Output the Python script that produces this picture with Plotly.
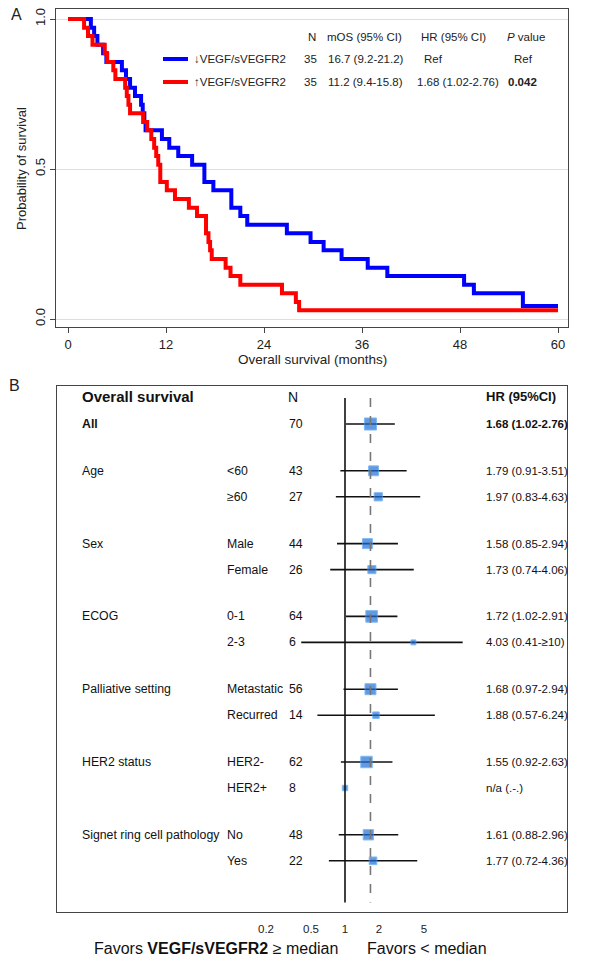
import math
import plotly.graph_objects as go

W, H = 600, 967
FONT = "Liberation Sans, Arial, sans-serif"


def px(x):
    return x / W


def py(y):
    return 1 - y / H


# ---------------- Panel A: Kaplan-Meier data -------------
low_t = [0, 2.8, 3.2, 3.6, 4.3, 4.7, 6.6, 7.1, 7.6, 8.2, 8.95, 9.15, 9.35, 9.5,
         11.5, 12.4, 13.5, 15.2, 16.7, 17.8, 20.0, 21.1, 21.95, 26.8, 29.7,
         31.3, 33.5, 36.7, 39.1, 48.5, 49.7, 55.7, 60]
low_s = [1.000, 0.971, 0.943, 0.914, 0.886, 0.857, 0.829, 0.800, 0.771, 0.743,
         0.714, 0.686, 0.657, 0.629, 0.600, 0.571, 0.543, 0.514, 0.457, 0.429,
         0.371, 0.343, 0.314, 0.286, 0.257, 0.229, 0.200, 0.171, 0.143, 0.114,
         0.086, 0.043, 0.043]

high_t = [0, 1.97, 2.45, 3.0, 4.5, 4.8, 5.55, 5.8, 7.0, 7.2, 7.4, 7.6, 9.2,
          9.7, 10.2, 10.55, 10.8, 11.05, 11.3, 12.1, 13.1, 14.8, 15.8, 16.9,
          17.2, 17.4, 17.6, 19.3, 19.9, 21.1, 26.2, 27.9, 28.3, 60]
high_s = [1.000, 0.971, 0.943, 0.914, 0.886, 0.857, 0.829, 0.800, 0.771, 0.743,
          0.714, 0.686, 0.657, 0.629, 0.600, 0.571, 0.543, 0.514, 0.457, 0.429,
          0.400, 0.371, 0.343, 0.286, 0.257, 0.229, 0.200, 0.171, 0.143, 0.114,
          0.086, 0.057, 0.029, 0.029]

km_xticks = [0, 12, 24, 36, 48, 60]
km_yticks = [0.0, 0.5, 1.0]
km_yticktext = ["0.0", "0.5", "1.0"]

legend_labels = ["↓VEGF/sVEGFR2", "↑VEGF/sVEGFR2"]
legend_n = ["35", "35"]
legend_mos = ["16.7 (9.2-21.2)", "11.2 (9.4-15.8)"]
legend_hr = ["Ref", "1.68 (1.02-2.76)"]
legend_p = ["Ref", "<b>0.042</b>"]

# ---------------- Panel B: forest plot data --------------------------------
groups = ["All", "Age", "Sex", "ECOG", "Palliative setting", "HER2 status",
          "Signet ring cell pathology"]
group_sizes = [1, 2, 2, 2, 2, 2, 2]
sublabels = ["", "<60", "≥60", "Male", "Female", "0-1", "2-3", "Metastatic",
             "Recurred", "HER2-", "HER2+", "No", "Yes"]
n_vals = [70, 43, 27, 44, 26, 64, 6, 56, 14, 62, 8, 48, 22]
hr_vals = [1.68, 1.79, 1.97, 1.58, 1.73, 1.72, 4.03, 1.68, 1.88, 1.55, 1.0,
           1.61, 1.77]
ci_lo = [1.02, 0.91, 0.83, 0.85, 0.74, 1.02, 0.41, 0.97, 0.57, 0.92, None,
         0.88, 0.72]
ci_hi = [2.76, 3.51, 4.63, 2.94, 4.06, 2.91, 11.0, 2.94, 6.24, 2.63, None,
         2.96, 4.36]
hr_text = ["<b>1.68 (1.02-2.76)</b>", "1.79 (0.91-3.51)", "1.97 (0.83-4.63)",
           "1.58 (0.85-2.94)", "1.73 (0.74-4.06)", "1.72 (1.02-2.91)",
           "4.03 (0.41-≥10)", "1.68 (0.97-2.94)", "1.88 (0.57-6.24)",
           "1.55 (0.92-2.63)", "n/a (.-.)", "1.61 (0.88-2.96)",
           "1.77 (0.72-4.36)"]
overall_hr = 1.68
forest_ticks = [0.2, 0.5, 1, 2, 5]

# row positions (layout): groups separated by a gap
GAP = 0.8
row_pos = []
group_first_pos = []
p = 0.0
for gi, size in enumerate(group_sizes):
    if gi > 0:
        p += GAP
    group_first_pos.append(p)
    for k in range(size):
        row_pos.append(p)
        p += 1

fig = go.Figure()

# ---------- KM traces ----------
fig.add_trace(go.Scatter(x=low_t, y=low_s, mode="lines", line_shape="hv",
                         line=dict(color="#0000ff", width=4), xaxis="x",
                         yaxis="y", showlegend=False, hoverinfo="skip"))
fig.add_trace(go.Scatter(x=high_t, y=high_s, mode="lines", line_shape="hv",
                         line=dict(color="#ff0000", width=4), xaxis="x",
                         yaxis="y", showlegend=False, hoverinfo="skip"))

# ---------- forest traces ----------
for i in range(len(n_vals)):
    if ci_lo[i] is not None:
        fig.add_trace(go.Scatter(x=[ci_lo[i], ci_hi[i]],
                                 y=[row_pos[i], row_pos[i]],
                                 mode="lines", line=dict(color="#111", width=1.6),
                                 xaxis="x2", yaxis="y2", showlegend=False,
                                 hoverinfo="skip"))
marker_sizes = [2 + 1.2 * math.sqrt(n) for n in n_vals]
fig.add_trace(go.Scatter(x=hr_vals, y=row_pos, mode="markers",
                         marker=dict(symbol="square", size=marker_sizes,
                                     color="#1f6fd6",
                                     line=dict(color="#4a9cf0", width=1)),
                         xaxis="x2", yaxis="y2", showlegend=False,
                         hoverinfo="skip"))

shapes = []
ann = []


def text(x, y, s, size, xanchor="left", yref="paper", color="#222", **kw):
    ann.append(dict(x=px(x), y=(py(y) if yref == "paper" else y), text=s,
                    xref="paper", yref=yref, showarrow=False, xanchor=xanchor,
                    yanchor="middle",
                    font=dict(size=size, color=color, family=FONT), **kw))


# KM legend table
hdr_y = 37
rows_y = [59, 82]
colors = ["#0000ff", "#ff0000"]
ts = 11.5
text(306, hdr_y, "N", ts)
text(325, hdr_y, "mOS (95% CI)", ts)
text(419, hdr_y, "HR (95% CI)", ts)
text(505, hdr_y, "<i>P</i> value", ts)
for r in range(2):
    yy = rows_y[r]
    shapes.append(dict(type="line", xref="paper", yref="paper", x0=px(163),
                       x1=px(188), y0=py(yy), y1=py(yy),
                       line=dict(color=colors[r], width=4)))
    text(192, yy, legend_labels[r], ts)
    text(302, yy, legend_n[r], ts)
    text(326, yy, legend_mos[r], ts)
    text(422 if r == 0 else 415, yy, legend_hr[r], ts)
    text(512 if r == 0 else 506, yy, legend_p[r], ts)

# panel letters & KM axis titles
text(9, 14, "A", 16)
ann.append(dict(x=px(21), y=py(169), text="Probability of survival",
                xref="paper", yref="paper", showarrow=False, textangle=-90,
                xanchor="center", yanchor="middle",
                font=dict(size=13, color="#222", family=FONT)))
text(313, 359, "Overall survival (months)", 13.5, xanchor="center")
text(7, 385, "B", 16)

# forest column headers
HDR = -1.04
text(80, HDR, "<b>Overall survival</b>", 15, yref="y2", color="#111")
text(286, HDR, "N", 14, yref="y2", color="#111")
text(484, HDR, "<b>HR (95%CI)</b>", 13, yref="y2", color="#111")

ls = 12.3
for gi, g in enumerate(groups):
    txt = "<b>All</b>" if g == "All" else g
    text(80, group_first_pos[gi], txt, ls, yref="y2", color="#111")
for i in range(len(n_vals)):
    if sublabels[i]:
        text(225, row_pos[i], sublabels[i], ls, yref="y2", color="#111")
    text(287, row_pos[i], str(n_vals[i]), ls, yref="y2", color="#111")
    text(484, row_pos[i], hr_text[i], 11.5, yref="y2", color="#111")

# forest reference lines
shapes.append(dict(type="line", xref="x2", yref="y2", x0=1, x1=1, y0=-1.0,
                   y1=18.4, line=dict(color="#111", width=1.6)))
shapes.append(dict(type="line", xref="x2", yref="y2", x0=overall_hr,
                   x1=overall_hr, y0=-1.0, y1=18.4,
                   line=dict(color="#777", width=1.6, dash="dash")))

text(340, 948, "Favors <b>VEGF/sVEGFR2</b> ≥ median", 16, xanchor="right",
     color="#111")
text(365, 948, "Favors < median", 16, color="#111")

# ---------- axes geometry (pixels) ----------
# panel A frame: x 56..568, y 9..327; t=0 at 68, t=60 at 558; 1.0 at 19, 0.0 at 319
ppm = (558 - 68) / 60.0
km_xr = [(56 - 68) / ppm, (568 - 68) / ppm]
ppu = 319 - 19
km_yr = [(319 - 327) / ppu, (319 - 9) / ppu]

# panel B frame: x 57..567, y 386..912; HR=1 at 345, 113 px per decade
dec = 113.0
fx_r = [(57 - 345) / dec, (567 - 345) / dec]
unit = 26.0
fy_r = [(912 - 424) / unit, (386 - 424) / unit]

axis_common = dict(showline=True, linecolor="#444", linewidth=1, mirror=True,
                   zeroline=False)

fig.update_layout(
    width=W, height=H, margin=dict(l=0, r=0, t=0, b=0),
    paper_bgcolor="white", plot_bgcolor="white",
    font=dict(family=FONT, color="#222"),
    xaxis=dict(domain=[px(56), px(568)], range=km_xr, tickvals=km_xticks,
               ticks="outside", ticklen=5, tickcolor="#444", showgrid=False,
               tickfont=dict(size=13, color="#222"), anchor="y",
               **axis_common),
    yaxis=dict(domain=[py(327), py(9)], range=km_yr, tickvals=km_yticks,
               ticktext=km_yticktext, tickangle=-90, ticks="outside",
               ticklen=5, tickcolor="#444", showgrid=True,
               gridcolor="#dddddd", gridwidth=1,
               tickfont=dict(size=13, color="#222"), anchor="x",
               **axis_common),
    xaxis2=dict(domain=[px(57), px(567)], type="log", range=fx_r,
                tickvals=forest_ticks, ticktext=[str(t) for t in forest_ticks],
                ticks="", showgrid=False, anchor="y2", ticklabelstandoff=6,
                tickfont=dict(size=11.5, color="#222"), **axis_common),
    yaxis2=dict(domain=[py(912), py(386)], range=fy_r, showticklabels=False,
                ticks="", showgrid=False, anchor="x2", **axis_common),
    shapes=shapes, annotations=ann,
)

fig.write_html("out.html",
               config={"displayModeBar": False},
               post_script="document.body.style.margin='0px';"
                           "document.body.style.overflow='hidden';")
